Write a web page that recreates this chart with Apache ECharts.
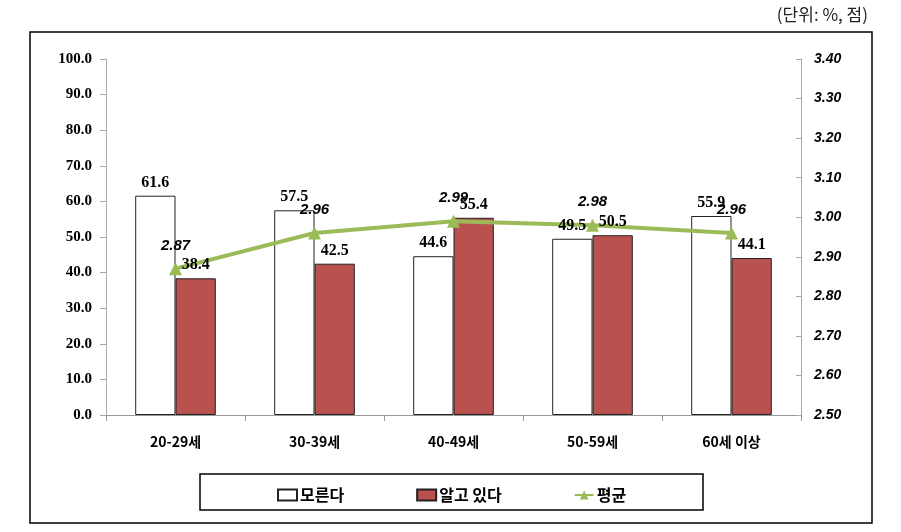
<!DOCTYPE html>
<html>
<head>
<meta charset="utf-8">
<script src="https://cdn.jsdelivr.net/npm/echarts@6/dist/echarts.min.js"></script>
<style>html,body{margin:0;padding:0;background:#fff;}#c{width:901px;height:532px;}</style>
</head>
<body>
<div id="c"></div>
<script>
var categories = ['20-29세', '30-39세', '40-49세', '50-59세', '60세 이상'];
var dontKnow = [61.6, 57.5, 44.6, 49.5, 55.9];
var know = [38.4, 42.5, 55.4, 50.5, 44.1];
var average = [2.87, 2.96, 2.99, 2.98, 2.96];
var seriesNames = ['모른다', '알고 있다', '평균'];
var unitText = '(단위: %, 점)';

var barLabel = {show: true, position: 'top', distance: 5, color: '#000', fontFamily: '"Liberation Serif", serif', fontWeight: 'bold', fontSize: 16,
  formatter: function (p) { return p.value.toFixed(1); }};

var chart = echarts.init(document.getElementById('c'), null, {renderer: 'canvas'});
var option = {
  animation: false,
  backgroundColor: '#fff',
  graphic: [
    {type: 'rect', shape: {x: 30, y: 32, width: 842, height: 491}, style: {fill: 'none', stroke: '#000', lineWidth: 1.5}, z: -1},
    {type: 'rect', shape: {x: 200, y: 474, width: 503, height: 36}, style: {fill: 'none', stroke: '#000', lineWidth: 1.5}, z: -1},
    {type: 'text', right: 33, top: 6, style: {text: unitText, font: '17px "Noto Sans CJK KR", sans-serif', fill: '#222'}}
  ],
  legend: {
    left: 272, top: 482, itemGap: 72, itemWidth: 19, itemHeight: 11,
    textStyle: {fontFamily: '"Noto Sans CJK KR", sans-serif', fontWeight: 'bold', fontSize: 16, color: '#000', padding: [0, 0, 0, -2]},
    data: [
      {name: seriesNames[0], icon: 'rect'},
      {name: seriesNames[1], icon: 'rect'},
      {name: seriesNames[2]}
    ]
  },
  grid: {left: 106, right: 100, top: 59, bottom: 117},
  xAxis: [{
    type: 'category', data: categories,
    axisLine: {lineStyle: {color: '#999', width: 1}},
    axisTick: {show: true, length: 6, lineStyle: {color: '#999'}},
    axisLabel: {margin: 20, color: '#000', fontFamily: '"Noto Sans CJK KR", sans-serif', fontWeight: 'bold', fontSize: 14}
  }, {
    type: 'category', data: categories, show: false, position: 'bottom'
  }],
  yAxis: [
    {
      type: 'value', min: 0, max: 100, interval: 10,
      axisLine: {show: true, lineStyle: {color: '#aaa'}},
      axisTick: {show: true, length: 6, lineStyle: {color: '#aaa'}},
      splitLine: {show: false},
      axisLabel: {margin: 14, color: '#000', fontFamily: '"Liberation Serif", serif', fontWeight: 'bold', fontSize: 15,
        formatter: function (v) { return v.toFixed(1); }}
    },
    {
      type: 'value', min: 2.5, max: 3.4, interval: 0.1, position: 'right',
      axisLine: {show: true, lineStyle: {color: '#aaa'}},
      axisTick: {show: true, inside: true, length: 5, lineStyle: {color: '#aaa'}},
      splitLine: {show: false},
      axisLabel: {margin: 13, color: '#000', fontFamily: '"Liberation Sans", sans-serif', fontWeight: 'bold', fontStyle: 'italic', fontSize: 14,
        formatter: function (v) { return v.toFixed(2); }}
    }
  ],
  series: [
    {
      name: seriesNames[0], type: 'bar', data: dontKnow, barGap: '0%', barCategoryGap: '42%', z: 2,
      itemStyle: {color: '#fff', borderColor: '#222', borderWidth: 1}
    },
    {
      name: seriesNames[1], type: 'bar', data: know, z: 2,
      itemStyle: {color: '#B9514F', borderColor: '#222', borderWidth: 1}
    },
    {
      name: seriesNames[2], type: 'line', yAxisIndex: 1, data: average,
      symbol: 'triangle', symbolSize: 13, z: 3,
      lineStyle: {color: '#9BBB59', width: 4},
      itemStyle: {color: '#9BBB59'},
      label: {show: true, position: 'top', distance: 9, color: '#000', fontFamily: '"Liberation Sans", sans-serif', fontWeight: 'bold', fontStyle: 'italic', fontSize: 15,
        formatter: function (p) { return p.value.toFixed(2); }}
    },
    {
      name: 'label-a', type: 'bar', xAxisIndex: 1, data: dontKnow, barGap: '0%', barCategoryGap: '42%', z: 5,
      itemStyle: {color: 'rgba(0,0,0,0)', borderWidth: 0}, label: barLabel, silent: true, legendHoverLink: false
    },
    {
      name: 'label-b', type: 'bar', xAxisIndex: 1, data: know, z: 5,
      itemStyle: {color: 'rgba(0,0,0,0)', borderWidth: 0}, label: barLabel, silent: true, legendHoverLink: false
    }
  ]
};
chart.setOption(option);
</script>
</body>
</html>
